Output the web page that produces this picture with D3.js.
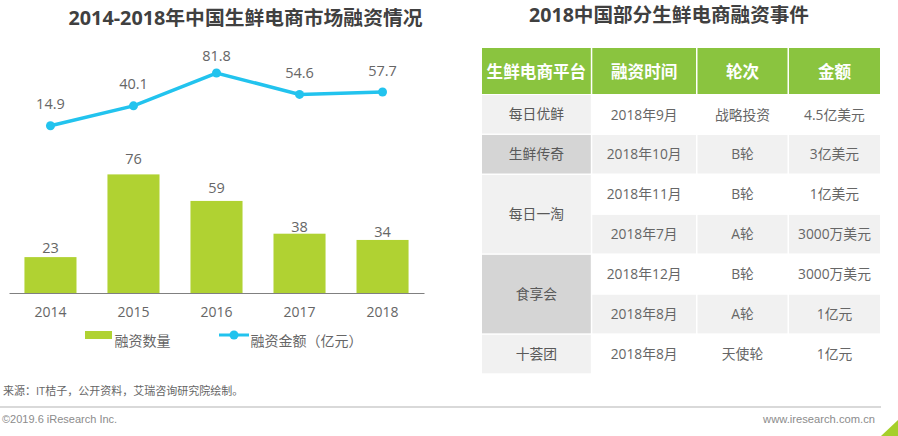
<!DOCTYPE html>
<html>

<head>
    <meta charset="utf-8">
    <script src="https://d3js.org/d3.v7.min.js"></script>
    <style>
        body { margin: 0; background: #fff; }
        svg { display: block; }
        text { font-family: "Open Sans", "Noto Sans CJK SC", sans-serif; }
    </style>
</head>

<body>
    <svg id="chart" width="898" height="436"></svg>

    <script>
        const years = ["2014", "2015", "2016", "2017", "2018"];
        const dealCounts = [23, 76, 59, 38, 34];
        const dealAmounts = [14.9, 40.1, 81.8, 54.6, 57.7];
        const amountLabels = ["14.9", "40.1", "81.8", "54.6", "57.7"];

        const tableHeaders = ["生鲜电商平台", "融资时间", "轮次", "金额"];
        const platforms = ["每日优鲜", "生鲜传奇", "每日一淘", "食享会", "十荟团"];
        const platformSpans = [1, 1, 2, 2, 1];
        const dates = ["2018年9月", "2018年10月", "2018年11月", "2018年7月", "2018年12月", "2018年8月", "2018年8月"];
        const rounds = ["战略投资", "B轮", "B轮", "A轮", "B轮", "A轮", "天使轮"];
        const amounts = ["4.5亿美元", "3亿美元", "1亿美元", "3000万美元", "3000万美元", "1亿元", "1亿元"];

        const svg = d3.select("#chart");

        // left chart
        const x = d3.scaleBand().domain(years).range([9, 424]).paddingInner(0.373).paddingOuter(0.186);
        const yBar = d3.scaleLinear().domain([0, 76]).range([293, 174.4]);
        const yLine = d3.scaleLinear().domain([14.9, 81.8]).range([125.7, 73]);
        const cx = d => x(d) + x.bandwidth() / 2;

        // labels in the original sit at uneven distances from their marks
        const barLabelGaps = [4.6, 10.6, 8, 2, 2.7];
        const lineLabelGaps = [16.4, 16.4, 12, 16, 15.7];

        svg.append("text").attr("x", 245.5).attr("y", 25).attr("text-anchor", "middle")
            .attr("font-size", 19.8).attr("font-weight", 700).attr("fill", "#404040")
            .text("2014-2018年中国生鲜电商市场融资情况");

        svg.selectAll(".bar").data(years).join("rect").attr("class", "bar")
            .attr("x", d => x(d))
            .attr("width", x.bandwidth())
            .attr("y", (d, i) => yBar(dealCounts[i]))
            .attr("height", (d, i) => yBar(0) - yBar(dealCounts[i]))
            .attr("fill", "#b0d232");

        svg.selectAll(".barLabel").data(years).join("text").attr("class", "barLabel")
            .attr("x", cx)
            .attr("y", (d, i) => yBar(dealCounts[i]) - barLabelGaps[i])
            .attr("text-anchor", "middle").attr("font-size", 14.5).attr("fill", "#666")
            .text((d, i) => dealCounts[i]);

        const xAxis = svg.append("g").attr("transform", "translate(0,293)")
            .call(d3.axisBottom(x).tickSize(0).tickPadding(14));
        xAxis.select(".domain").attr("stroke", "#808080").attr("stroke-width", 1);
        xAxis.selectAll("text").attr("font-size", 14).attr("fill", "#666")
            .style("font-family", "'Open Sans', sans-serif");

        const line = d3.line().x(d => cx(d)).y((d, i) => yLine(dealAmounts[i]));
        svg.append("path").datum(years).attr("d", line)
            .attr("fill", "none").attr("stroke", "#22c3ee").attr("stroke-width", 3.5);
        svg.selectAll(".dot").data(years).join("circle").attr("class", "dot")
            .attr("cx", cx)
            .attr("cy", (d, i) => yLine(dealAmounts[i]))
            .attr("r", 4.5).attr("fill", "#22c3ee");
        svg.selectAll(".lineLabel").data(years).join("text").attr("class", "lineLabel")
            .attr("x", cx)
            .attr("y", (d, i) => yLine(dealAmounts[i]) - lineLabelGaps[i])
            .attr("text-anchor", "middle").attr("font-size", 14.5).attr("fill", "#666")
            .text((d, i) => amountLabels[i]);

        // legend
        svg.append("rect").attr("x", 85).attr("y", 331).attr("width", 27).attr("height", 8).attr("fill", "#b0d232");
        svg.append("text").attr("x", 114.5).attr("y", 345.5).attr("font-size", 14).attr("fill", "#666").text("融资数量");
        svg.append("line").attr("x1", 219).attr("x2", 249).attr("y1", 335).attr("y2", 335)
            .attr("stroke", "#22c3ee").attr("stroke-width", 3);
        svg.append("circle").attr("cx", 234).attr("cy", 335).attr("r", 4.5).attr("fill", "#22c3ee");
        svg.append("text").attr("x", 250.5).attr("y", 345.5).attr("font-size", 14).attr("fill", "#666").text("融资金额（亿元）");

        // right table
        const colEdges = [482, 592.3, 697.5, 789, 880];
        const colGap = 1.5;
        const rowY = d3.scaleLinear().domain([0, 7]).range([95, 374.7]);
        const cellGap = 1.4;

        svg.append("text").attr("x", 669).attr("y", 22).attr("text-anchor", "middle")
            .attr("font-size", 19.6).attr("font-weight", 700).attr("fill", "#404040")
            .text("2018中国部分生鲜电商融资事件");

        const colX = i => colEdges[i];
        const colW = i => colEdges[i + 1] - colEdges[i] - (i < 3 ? colGap : 0);

        svg.selectAll(".head").data(tableHeaders).join("rect").attr("class", "head")
            .attr("x", (d, i) => colX(i)).attr("width", (d, i) => colW(i))
            .attr("y", 48).attr("height", 46).attr("fill", "#8ac43f");
        svg.selectAll(".headText").data(tableHeaders).join("text").attr("class", "headText")
            .attr("x", (d, i) => colX(i) + colW(i) / 2).attr("y", 77.5)
            .attr("text-anchor", "middle").attr("font-size", 16.6).attr("font-weight", 700).attr("fill", "#fff")
            .text(d => d);

        // platform column, some cells span two rows
        const platformCells = platforms.map((name, i) => ({
            name, shade: i % 2, start: d3.sum(platformSpans.slice(0, i)), span: platformSpans[i]
        }));
        svg.selectAll(".platform").data(platformCells).join("rect").attr("class", "platform")
            .attr("x", colX(0)).attr("width", colW(0))
            .attr("y", d => rowY(d.start))
            .attr("height", d => rowY(d.start + d.span) - rowY(d.start) - cellGap)
            .attr("fill", d => d.shade ? "#d5d5d5" : "#f1f1f1");
        svg.selectAll(".platformText").data(platformCells).join("text").attr("class", "platformText")
            .attr("x", colX(0) + colW(0) / 2)
            .attr("y", d => (rowY(d.start) + rowY(d.start + d.span)) / 2 + 4.5)
            .attr("text-anchor", "middle").attr("font-size", 13.8).attr("fill", "#595959")
            .text(d => d.name);

        // the other three columns
        [dates, rounds, amounts].forEach((values, c) => {
            const col = c + 1;
            svg.selectAll(".stripe" + col).data(values).join("rect").attr("class", "stripe" + col)
                .attr("x", colX(col)).attr("width", colW(col))
                .attr("y", (d, i) => rowY(i))
                .attr("height", (d, i) => rowY(i + 1) - rowY(i) - cellGap)
                .attr("fill", (d, i) => i % 2 ? "#f1f1f1" : "#fff");
            svg.selectAll(".cell" + col).data(values).join("text").attr("class", "cell" + col)
                .attr("x", colX(col) + colW(col) / 2)
                .attr("y", (d, i) => rowY(i) + 24.5)
                .attr("text-anchor", "middle").attr("font-size", 13.8).attr("fill", "#666")
                .text(d => d);
        });

        // footer
        svg.append("text").attr("x", 3).attr("y", 395).attr("font-size", 11).attr("fill", "#666")
            .text("来源：IT桔子，公开资料，艾瑞咨询研究院绘制。");
        svg.append("line").attr("x1", 0).attr("x2", 881).attr("y1", 407).attr("y2", 407)
            .attr("stroke", "#b3b3b3").attr("stroke-width", 1);
        svg.append("text").attr("x", 2).attr("y", 423).attr("font-size", 11).attr("fill", "#8c8c8c")
            .style("font-family", "'Liberation Sans', sans-serif").text("©2019.6 iResearch Inc.");
        svg.append("text").attr("x", 875).attr("y", 423).attr("text-anchor", "end").attr("font-size", 11.2).attr("fill", "#8c8c8c")
            .style("font-family", "'Liberation Sans', sans-serif").text("www.iresearch.com.cn");
        svg.append("path").attr("d", "M881,436L898,420V436Z").attr("fill", "#a5cf2a");
    </script>
</body>

</html>
